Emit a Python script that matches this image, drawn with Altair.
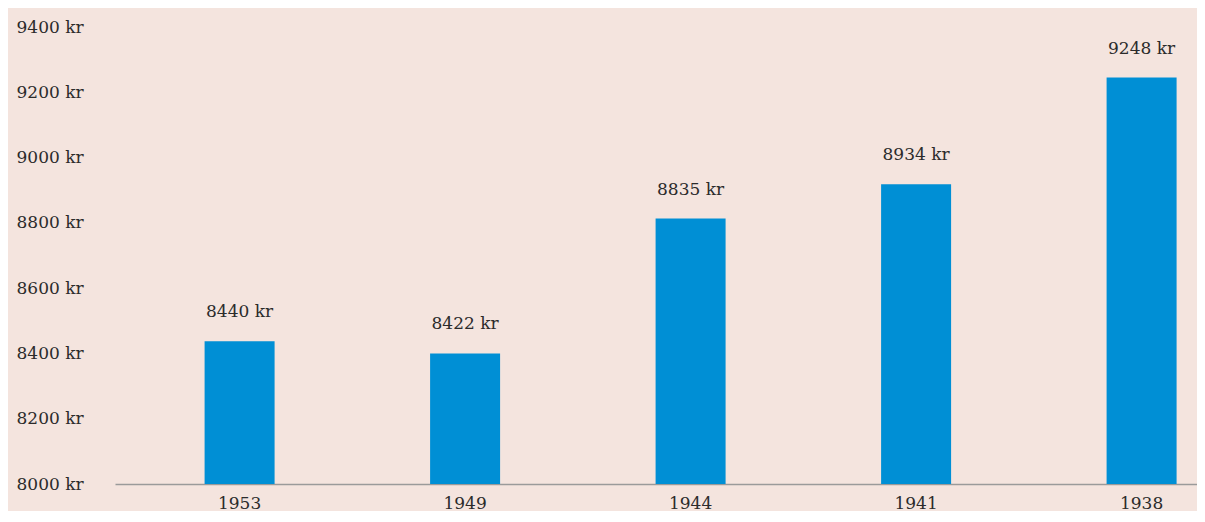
import altair as alt
import pandas as pd

years = ["1953", "1949", "1944", "1941", "1938"]
bar_values = [8437, 8400, 8813, 8918, 9245]
label_texts = ["8440 kr", "8422 kr", "8835 kr", "8934 kr", "9248 kr"]
y_ticks = [8000, 8200, 8400, 8600, 8800, 9000, 9200, 9400]

df = pd.DataFrame({"year": years, "value": bar_values, "label": label_texts})

FONT = "DejaVu Serif"
TXT = "#2b2b2b"

xscale = alt.Scale(domain=years, paddingInner=0.6896, paddingOuter=0.2439, align=0.8145)
yscale = alt.Scale(domain=[8000, 9400], zero=False, nice=False)

x_enc = alt.X(
    "year:N",
    scale=xscale,
    sort=years,
    axis=alt.Axis(
        title=None, labelAngle=0, ticks=False, domainColor="#9a9a9a", domainWidth=1.5,
        labelPadding=24, labelBaseline="alphabetic", labelFont=FONT, labelFontSize=17,
        labelColor=TXT,
    ),
)
y_enc = alt.Y(
    "value:Q",
    scale=yscale,
    axis=alt.Axis(
        title=None, values=y_ticks, labelExpr="datum.value + ' kr'", labelAlign="left",
        labelPadding=99, ticks=False, domain=False, grid=False, labelFont=FONT,
        labelFontSize=17, labelColor=TXT, labelBaseline="middle",
    ),
)

base = alt.Chart(df)
bars = base.mark_bar(color="#008fd5").encode(x=x_enc, y=y_enc, y2=alt.datum(8000))
labels = base.mark_text(dy=-24, baseline="alphabetic", font=FONT, fontSize=17, color=TXT).encode(
    x=alt.X("year:N", scale=xscale, sort=years), y=alt.Y("value:Q", scale=yscale), text="label:N"
)

chart = (
    alt.layer(bars, labels)
    .properties(
        width=1082,
        height=457,
        padding={"left": 107, "top": 19, "right": 0, "bottom": 27},
        autosize=alt.AutoSizeParams(type="none"),
        background="#f4e4de",
    )
    .configure_view(stroke=None)
)

chart.save("out.html", embed_options={"renderer": "svg", "actions": False})
